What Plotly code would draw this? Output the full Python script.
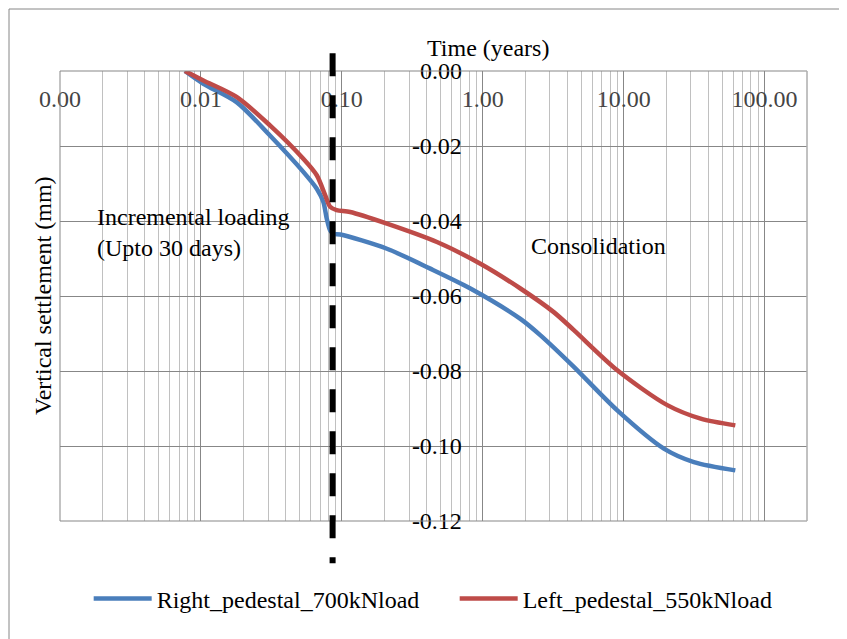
import plotly.graph_objects as go
import math

# ---- data (time in years, vertical settlement in mm) ----
time_right = [0.0077, 0.0104, 0.0179, 0.0309, 0.0533, 0.0664, 0.0739, 0.0782, 0.0826,
              0.0872, 0.0977, 0.209, 0.424, 0.817, 1.85, 2.57, 4.43, 9.01, 19.3, 31.5, 62.0]
settle_right = [0.0, -0.0034, -0.0083, -0.0172, -0.0269, -0.0314, -0.0349, -0.0394, -0.0425,
                -0.0434, -0.0436, -0.0474, -0.0527, -0.0580, -0.0661, -0.0705, -0.0789,
                -0.0905, -0.1007, -0.1043, -0.1065]

time_left = [0.0077, 0.0104, 0.0179, 0.0309, 0.0533, 0.0664, 0.0761, 0.0826, 0.0918,
             0.1146, 0.209, 0.473, 0.962, 1.85, 3.19, 4.43, 9.01, 20.4, 35.2, 62.0]
settle_left = [0.0, -0.0025, -0.0069, -0.0145, -0.0234, -0.0278, -0.0331, -0.0362, -0.0371,
               -0.0376, -0.0407, -0.0456, -0.0514, -0.0580, -0.0643, -0.0691, -0.0798,
               -0.0891, -0.0927, -0.0945]

series_names = ["Right_pedestal_700kNload", "Left_pedestal_550kNload"]

x_tick_vals = [0.001, 0.01, 0.1, 1, 10, 100]
x_tick_text = ["0.00", "0.01", "0.10", "1.00", "10.00", "100.00"]
y_tick_vals = [0.0, -0.02, -0.04, -0.06, -0.08, -0.10, -0.12]
y_tick_text = ["0.00", "-0.02", "-0.04", "-0.06", "-0.08", "-0.10", "-0.12"]

x_min, x_max = 0.001, 200
y_min, y_max = -0.12, 0.0

loading_end_years = 0.086   # end of incremental loading (~30 days)

# ---- style ----
FONT = "Liberation Serif, Times New Roman, serif"
FS = 24
BLUE = "#4A7EBB"
RED = "#BE4B48"
MAJOR = "#878787"
MINOR = "#C0C0C0"

minor_vals = [m * 10 ** e for e in range(-3, 3) for m in range(2, 10) if m * 10 ** e <= x_max]

fig = go.Figure()
fig.add_trace(go.Scatter(x=time_right, y=settle_right, mode="lines", name=series_names[0],
                         line=dict(color=BLUE, width=4.5, shape="spline", smoothing=0.8)))
fig.add_trace(go.Scatter(x=time_left, y=settle_left, mode="lines", name=series_names[1],
                         line=dict(color=RED, width=4.5, shape="spline", smoothing=0.8)))

# page body has an 8px margin, so the figure is 8px smaller than the window
fig.update_layout(
    width=839, height=631,
    margin=dict(l=52, r=40, t=63, b=118, autoexpand=False),
    paper_bgcolor="white", plot_bgcolor="white",
    font=dict(family=FONT, size=FS, color="black"),
    showlegend=True,
    legend=dict(orientation="h", x=0.0384, y=-0.173, xanchor="left", yanchor="middle",
                font=dict(family=FONT, size=FS, color="black"), itemwidth=58,
                entrywidth=293, bgcolor="rgba(0,0,0,0)"),
    xaxis=dict(type="log", range=[math.log10(x_min), math.log10(x_max)], side="top",
               tickmode="array", tickvals=x_tick_vals, ticktext=x_tick_text,
               ticks="", showline=False, showgrid=True, gridcolor=MAJOR, gridwidth=1,
               ticklabelposition="inside", ticklabeloverflow="allow", ticklabelstandoff=16,
               minor=dict(tickmode="array", tickvals=minor_vals, showgrid=True,
                          gridcolor=MINOR, gridwidth=1, ticks=""),
               zeroline=False, automargin=False),
    yaxis=dict(range=[y_min, y_max], tickmode="array", tickvals=y_tick_vals, ticktext=y_tick_text,
               anchor="free", position=0.538, side="left", ticks="", showline=False,
               showgrid=True, gridcolor=MAJOR, gridwidth=1, zeroline=False,
               ticklabeloverflow="allow", automargin=False),
)

# plot-area border (left/top/bottom dark, right light)
fig.add_shape(type="rect", xref="paper", yref="paper", x0=0, x1=1, y0=0, y1=1,
              line=dict(color=MAJOR, width=1), layer="above")
fig.add_shape(type="line", xref="paper", yref="paper", x0=1, x1=1, y0=0, y1=1,
              line=dict(color=MINOR, width=1), layer="above")
# outer chart border
fig.add_shape(type="rect", xref="paper", yref="paper",
              x0=(9 - 60) / 747, x1=(860 - 60) / 747, y0=(520 - 660) / 450, y1=(520 - 8) / 450,
              line=dict(color="#868686", width=1), layer="above")
# dashed end-of-loading line
fig.add_shape(type="line", xref="x", yref="paper", x0=loading_end_years, x1=loading_end_years,
              y0=1.0395, y1=-0.094, line=dict(color="black", width=6, dash="23px,19px"),
              layer="above")

fig.add_annotation(text="Time (years)", xref="paper", yref="paper", x=(488 - 60) / 747,
                   y=(520 - 47) / 450, showarrow=False, xanchor="center", yanchor="middle",
                   font=dict(family=FONT, size=FS))
fig.add_annotation(text="Vertical settlement (mm)", xref="paper", yref="paper",
                   x=(43 - 60) / 747, y=0.5, textangle=-90, showarrow=False,
                   xanchor="center", yanchor="middle", font=dict(family=FONT, size=FS))
fig.add_annotation(text="Incremental loading<br>(Upto 30 days)", x=math.log10(0.00177),
                   y=-0.0431, xref="x", yref="y", showarrow=False, xanchor="left",
                   yanchor="middle", align="left", font=dict(family=FONT, size=FS))
fig.add_annotation(text="Consolidation", x=math.log10(6.58), y=-0.0467, xref="x", yref="y",
                   showarrow=False, xanchor="center", yanchor="middle",
                   font=dict(family=FONT, size=FS))

fig.write_html("out.html")
